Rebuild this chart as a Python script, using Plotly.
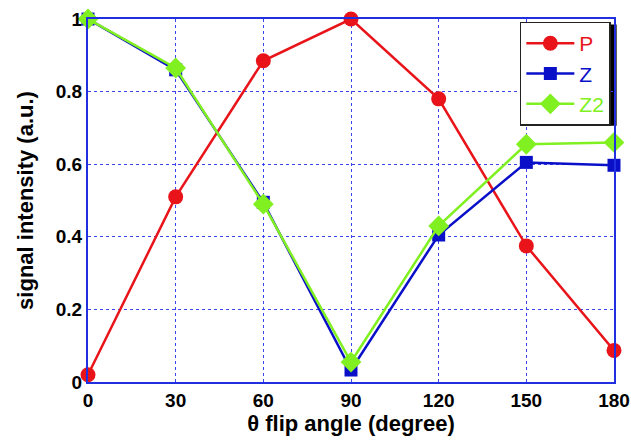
import plotly.graph_objects as go

angles = [0, 30, 60, 90, 120, 150, 180]
p_vals = [0.02, 0.51, 0.885, 1.0, 0.78, 0.375, 0.087]
z_vals = [1.0, 0.86, 0.495, 0.033, 0.405, 0.605, 0.597]
z2_vals = [1.0, 0.865, 0.49, 0.055, 0.43, 0.655, 0.66]
x_ticks = [0, 30, 60, 90, 120, 150, 180]
y_ticks = [0, 0.2, 0.4, 0.6, 0.8, 1]
y_tick_text = ["0", "0.2", "0.4", "0.6", "0.8", "1"]

RED = "#e8141a"
BLUE = "#0a10c8"
GREEN = "#80f020"
FONT = "Liberation Sans, Arial"

fig = go.Figure()
fig.add_trace(go.Scatter(x=angles, y=p_vals, mode="lines+markers",
                         name='<span style="color:%s">P</span>' % RED,
                         line=dict(color=RED, width=2.5),
                         marker=dict(symbol="circle", size=15, color=RED)))
fig.add_trace(go.Scatter(x=angles, y=z_vals, mode="lines+markers",
                         name='<span style="color:%s">Z</span>' % BLUE,
                         line=dict(color=BLUE, width=2.5),
                         marker=dict(symbol="square", size=13, color=BLUE)))
fig.add_trace(go.Scatter(x=angles, y=z2_vals, mode="lines+markers",
                         name='<span style="color:%s">Z2</span>' % GREEN,
                         line=dict(color=GREEN, width=2.5),
                         marker=dict(symbol="diamond", size=16, color=GREEN)))

# legend shadow
fig.add_shape(type="rect", xref="paper", yref="paper",
              x0=0.83, x1=1.005, y0=0.706, y1=0.985,
              fillcolor="black", line=dict(width=0), layer="below")

fig.update_layout(
    width=631, height=448,
    margin=dict(l=88, r=17, t=19, b=66),
    paper_bgcolor="white", plot_bgcolor="white",
    font=dict(family=FONT, color="black"),
    showlegend=True,
    legend=dict(x=0.821, y=0.993, xanchor="left", yanchor="top",
                bgcolor="white", bordercolor="#222", borderwidth=1.5,
                font=dict(size=21), itemwidth=48, tracegroupgap=0),
    xaxis=dict(range=[0, 180], tickvals=x_ticks, ticktext=[str(v) for v in x_ticks],
               showline=True, linecolor="#2030e0", linewidth=2, mirror=True,
               showgrid=True, gridcolor="#3a44f0", griddash="dot", gridwidth=1.2,
               zeroline=False, ticks="", automargin=False,
               tickfont=dict(size=19, family=FONT, weight="bold"),
               title=dict(text="<b>θ flip angle (degree)</b>", font=dict(size=22), standoff=6)),
    yaxis=dict(range=[0, 1], tickvals=y_ticks, ticktext=y_tick_text,
               showline=True, linecolor="#2030e0", linewidth=2, mirror=True,
               showgrid=True, gridcolor="#3a44f0", griddash="dot", gridwidth=1.2,
               zeroline=False, ticks="", automargin=False,
               tickfont=dict(size=19, family=FONT, weight="bold"),
               title=dict(text="<b>signal intensity (a.u.)</b>", font=dict(size=22), standoff=16)),
)
for tr in fig.data:
    tr.cliponaxis = False

fig.write_html(
    "out.html",
    config={"displayModeBar": False},
    post_script=(
        "document.documentElement.style.margin='0';"
        "document.documentElement.style.overflow='hidden';"
        "document.body.style.margin='0';"
        "document.body.style.overflow='hidden';"
    ),
)
